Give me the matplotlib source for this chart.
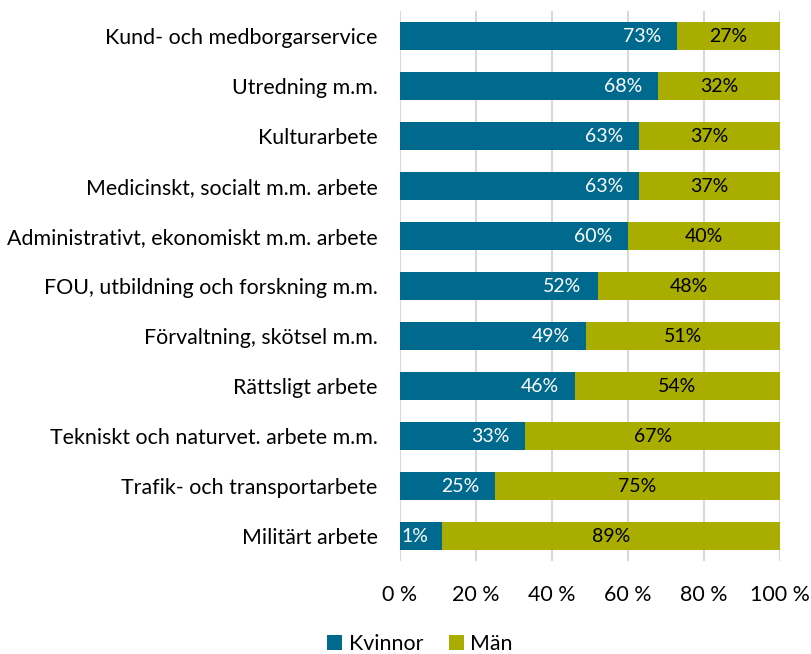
import matplotlib
matplotlib.use("Agg")
import matplotlib.pyplot as plt
import numpy as np

categories = ["Kund- och medborgarservice", "Utredning m.m.", "Kulturarbete",
              "Medicinskt, socialt m.m. arbete", "Administrativt, ekonomiskt m.m. arbete",
              "FOU, utbildning och forskning m.m.", "Förvaltning, skötsel m.m.",
              "Rättsligt arbete", "Tekniskt och naturvet. arbete m.m.",
              "Trafik- och transportarbete", "Militärt arbete"]
kvinnor = [73, 68, 63, 63, 60, 52, 49, 46, 33, 25, 11]
man = [27, 32, 37, 37, 40, 48, 51, 54, 67, 75, 89]
kvinnor_labels = ["73%", "68%", "63%", "63%", "60%", "52%", "49%", "46%", "33%", "25%", "1%"]
man_labels = ["27%", "32%", "37%", "37%", "40%", "48%", "51%", "54%", "67%", "75%", "89%"]
xticks = [0, 20, 40, 60, 80, 100]
xticklabels = ["0 %", "20 %", "40 %", "60 %", "80 %", "100 %"]

blue = "#006A8E"
olive = "#A8AD00"
plt.rcParams['font.family'] = ['Lato', 'DejaVu Sans']

fig = plt.figure(figsize=(8.12, 6.54), dpi=100)
ax = fig.add_axes([400/812, 1-561/654, 380/812, 550/654])
y = np.arange(len(categories))
h = 0.56
ax.barh(y, kvinnor, height=h, color=blue, label="Kvinnor", zorder=3)
ax.barh(y, man, left=kvinnor, height=h, color=olive, label="Män", zorder=3)
for i in range(len(categories)):
    if kvinnor_labels[i] == "1%":
        ax.text(0.3, y[i], kvinnor_labels[i], ha="left", va="center", color="white", fontsize=14, zorder=4)
    else:
        ax.annotate(kvinnor_labels[i], (kvinnor[i], y[i]), xytext=(-11.5, 0), textcoords="offset points",
                    ha="right", va="center", color="white", fontsize=14, zorder=4)
    ax.text(kvinnor[i] + man[i]/2, y[i], man_labels[i], ha="center", va="center", color="black", fontsize=14, zorder=4)

ax.set_ylim(len(categories) - 0.5, -0.5)
ax.set_xlim(0, 100)
ax.set_yticks(y)
ax.set_yticklabels(categories, fontsize=15.4)
ax.set_xticks(xticks)
ax.set_xticklabels(xticklabels, fontsize=15.4)
ax.tick_params(axis="both", length=0)
ax.tick_params(axis="x", pad=17)
ax.tick_params(axis="y", pad=16)
for s in ax.spines.values():
    s.set_visible(False)
ax.grid(axis="x", color="#D9D9D9", linewidth=1.5, zorder=0)
ax.set_axisbelow(True)
leg = fig.legend(loc="lower center", bbox_to_anchor=(420/812, -0.03), ncol=2, frameon=False,
                 fontsize=15.4, handlelength=0.7, handleheight=0.7, handletextpad=0.3, columnspacing=1.2)
fig.savefig("out.png", dpi=100)
